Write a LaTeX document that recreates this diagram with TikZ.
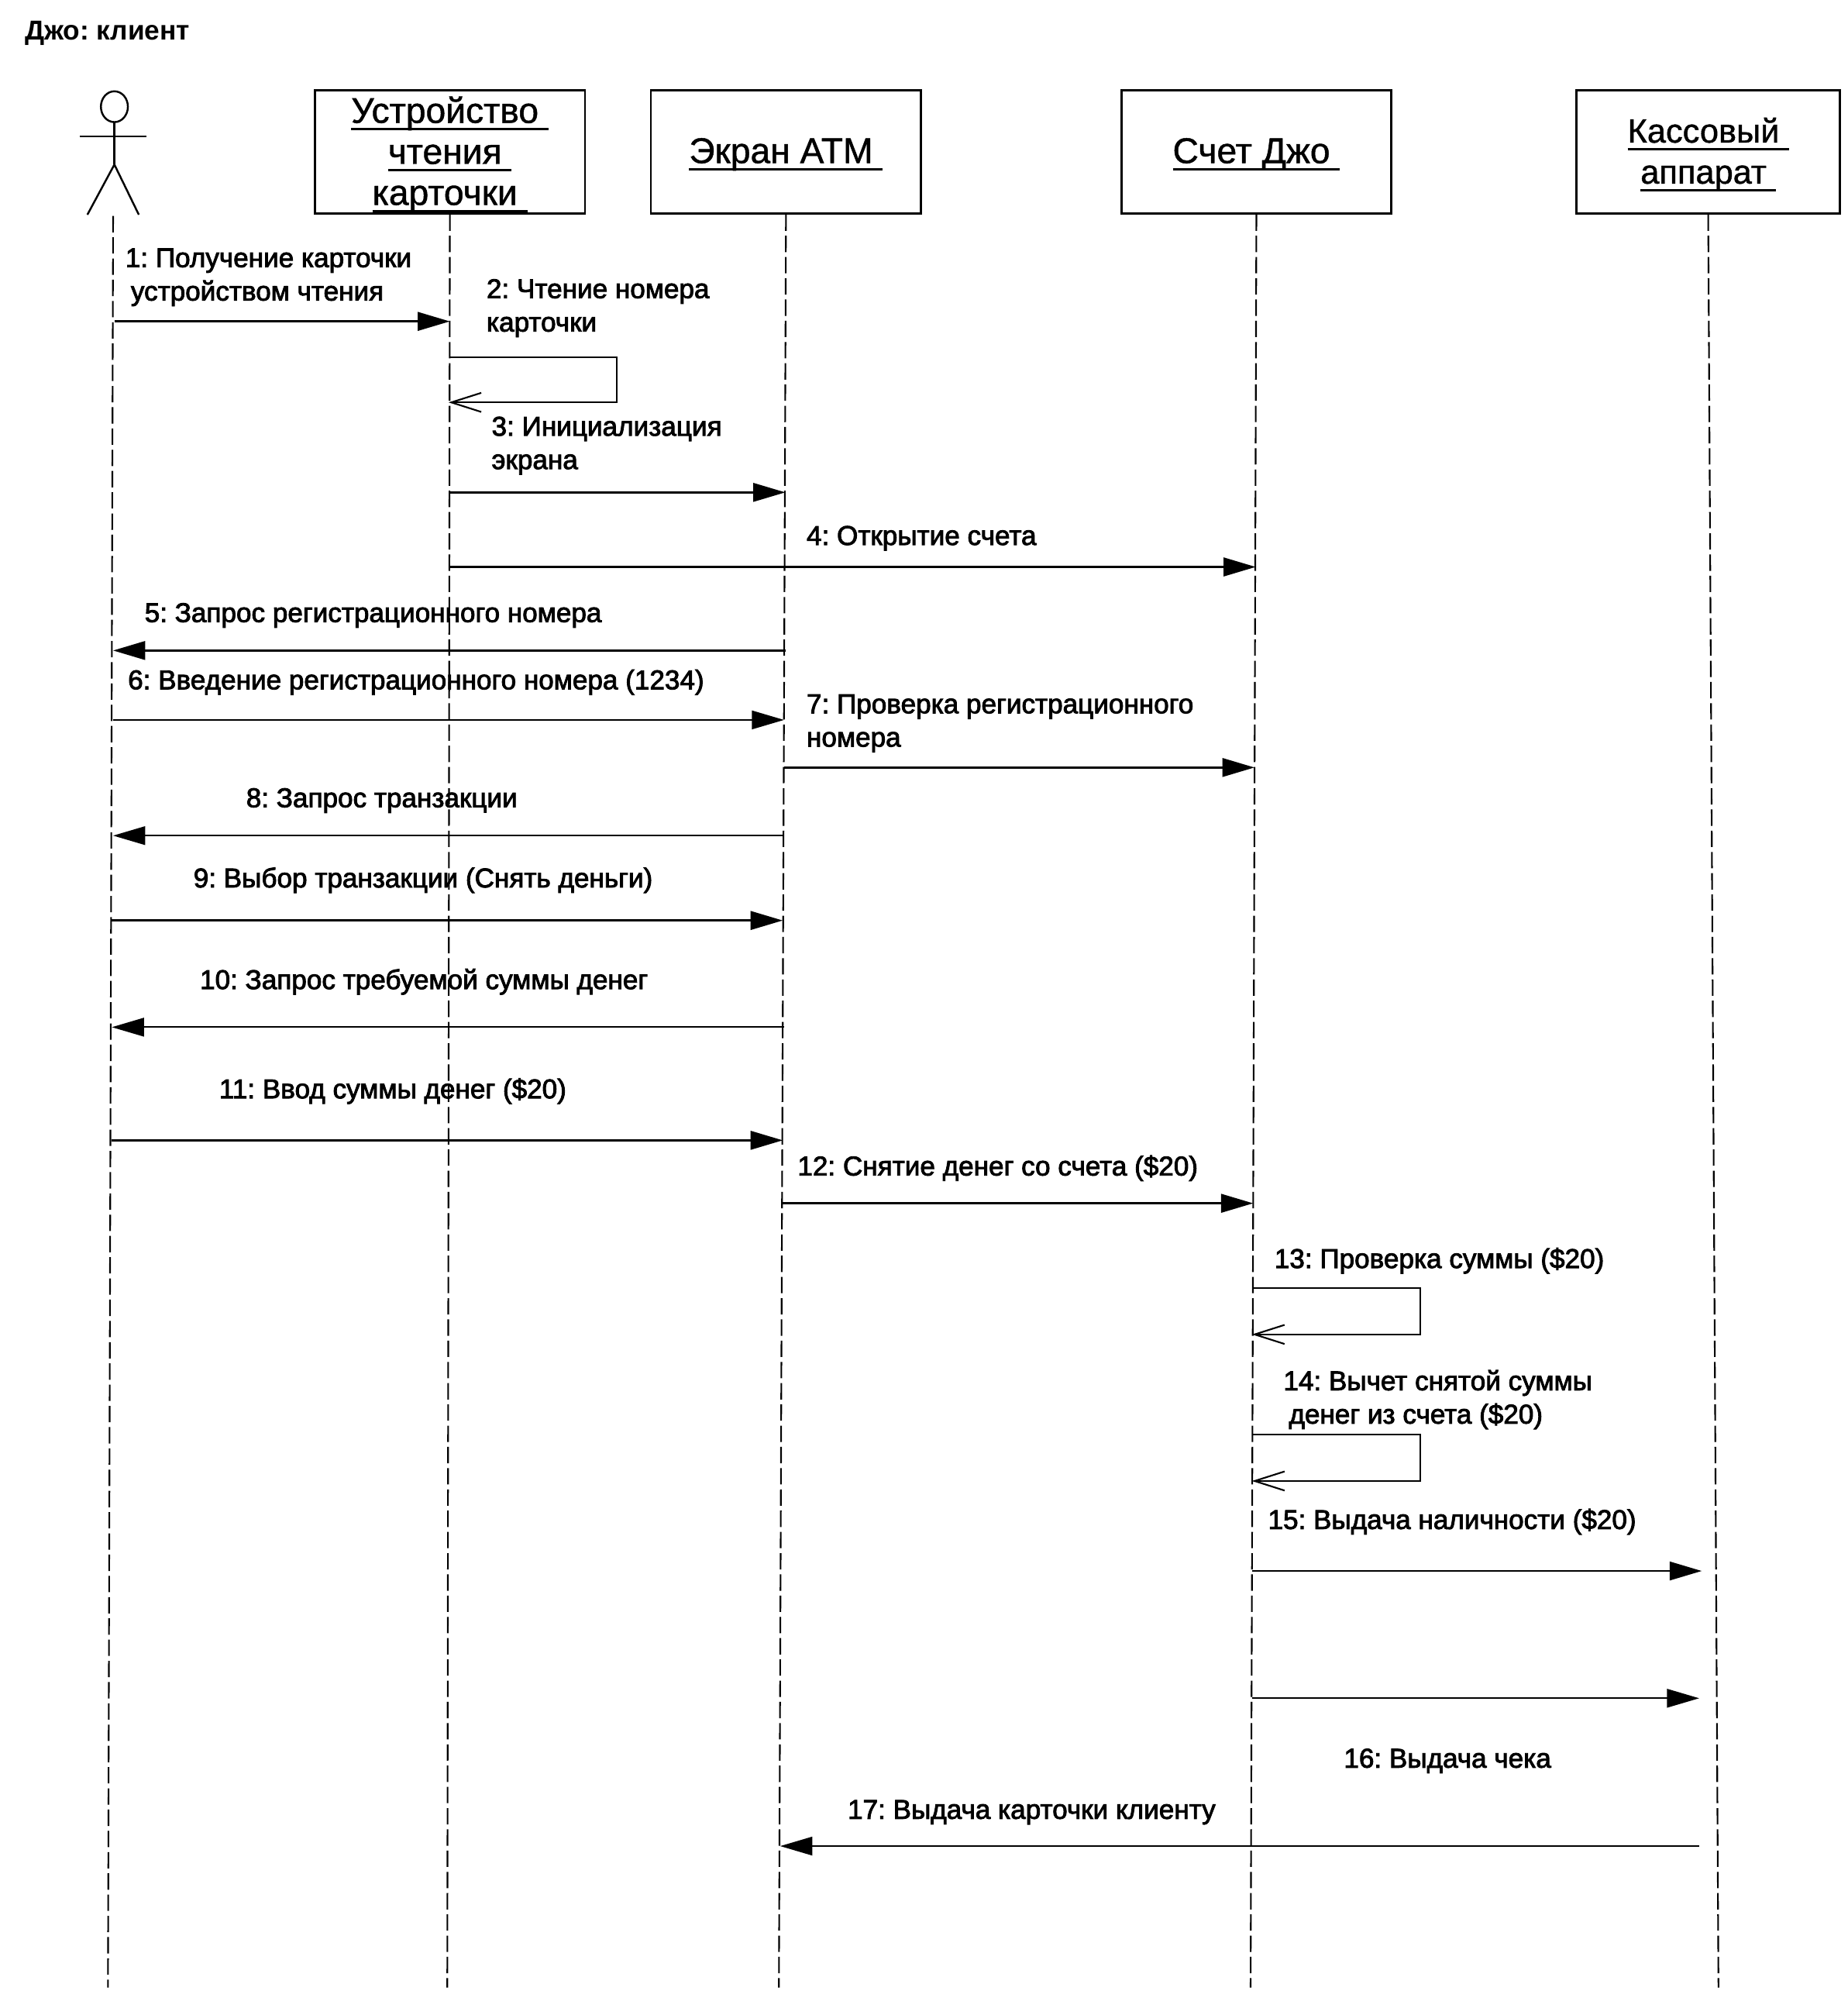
\documentclass[tikz,border=0pt]{standalone}
\usepackage{fontspec}
\setmainfont{Liberation Sans}
\newfontfamily\msgfont[FakeBold=2.5]{Liberation Sans}
\newfontfamily\namefont[FakeBold=1]{Liberation Sans}
\usetikzlibrary{arrows.meta}
\newcommand{\boxname}[1]{\raisebox{-1pt}[\height][\depth]{\setbox0=\hbox{#1\ }\rlap{\rule[-2.8pt]{\wd0}{0.9pt}}\box0}}
\tikzset{
    objbox/.style={draw,line width=0.8pt,minimum width=99.2pt,minimum height=45.3pt,inner sep=0pt,align=center,font=\namefont\fontsize{13.1bp}{15bp}\selectfont},
    lifeline/.style={line width=0.6pt,dash pattern=on 6pt off 1.8pt},
    msgline/.style={line width=0.8pt,-{Triangle[length=11.8pt,width=6.8pt]}},
    thinmsg/.style={msgline,line width=0.6pt},
    selfline/.style={line width=0.7pt,-{Straight Barb[length=11pt,width=7pt,line width=0.6pt]}},
    msglabel/.style={anchor=west,inner sep=0pt,xshift=-0.4pt,yshift=-0.8pt,align=left,font=\msgfont\fontsize{9.95bp}{12.2bp}\selectfont}
}
\frenchspacing
\begin{document}
\begin{tikzpicture}[x=0.016588cm,y=-0.016588cm]
    \useasboundingbox (1,0) rectangle (1438.2,1567.4);
    \node[anchor=west,inner sep=0pt,font=\fontsize{10bp}{12bp}\selectfont\bfseries] (title) at (20,26) {Джо: клиент};
    % actor
    \draw[line width=0.7pt] (90,83) ellipse [x radius=10.5,y radius=12];
    \draw[line width=0.7pt] (63,106) -- (115,106);
    \draw[line width=0.7pt] (90,95) -- (90,128);
    \draw[line width=0.7pt] (69,167) -- (90,128) -- (109,167);
    \coordinate (actortop) at (89,168);
    % objects
    \node[objbox] (reader) at (351,118) {\boxname{Устройство}\\\boxname{чтения}\\\boxname{карточки}};
    \node[objbox] (screen) at (612.5,118) {\boxname{Экран АТМ}};
    \node[objbox] (account) at (978.5,118) {\boxname{Счет Джо}};
    \node[objbox,minimum width=96.8pt,font=\namefont\fontsize{12.3bp}{15bp}\selectfont] (cash) at (1330,118) {\boxname{Кассовый}\\\boxname{аппарат}};
    % lifelines
    \coordinate (actorend) at (85,1546);
    \coordinate (readerend) at (349,1546);
    \coordinate (screenend) at (607,1546);
    \coordinate (accountend) at (974,1546);
    \coordinate (cashend) at (1338,1546);
    \draw[lifeline] (actortop) -- (actorend);
    \draw[lifeline] (reader.south) -- (readerend);
    \draw[lifeline] (screen.south) -- (screenend);
    \draw[lifeline] (account.south) -- (accountend);
    \draw[lifeline] (cash.south) -- (cashend);
    % messages
    \coordinate (a1) at (90,250);
    \coordinate (b1) at (351,250);
    \draw[msgline] (a1) -- (b1);
    \node[msglabel] (lab1) at (99,214) {1: Получение карточки\\\hspace*{2pt}устройством чтения};
    \coordinate (a2) at (351,278);
    \coordinate (c2) at (481,313);
    \coordinate (b2) at (350,313);
    \draw[selfline] (a2) -| (c2) -- (b2);
    \node[msglabel] (lab2) at (380,238) {2: Чтение номера\\карточки};
    \coordinate (a3) at (351,383);
    \coordinate (b3) at (612,383);
    \draw[msgline] (a3) -- (b3);
    \node[msglabel] (lab3) at (384,345) {3: Инициализация\\экрана};
    \coordinate (a4) at (351,441);
    \coordinate (b4) at (978,441);
    \draw[msgline] (a4) -- (b4);
    \node[msglabel] (lab4) at (629,417) {4: Открытие счета};
    \coordinate (a5) at (612,506);
    \coordinate (b5) at (89,506);
    \draw[msgline] (a5) -- (b5);
    \node[msglabel] (lab5) at (114,477) {5: Запрос регистрационного номера};
    \coordinate (a6) at (89,560);
    \coordinate (b6) at (611,560);
    \draw[thinmsg] (a6) -- (b6);
    \node[msglabel] (lab6) at (101,529) {6: Введение регистрационного номера (1234)};
    \coordinate (a7) at (611,597);
    \coordinate (b7) at (977,597);
    \draw[msgline] (a7) -- (b7);
    \node[msglabel] (lab7) at (629,561) {7: Проверка регистрационного\\номера};
    \coordinate (a8) at (611,650);
    \coordinate (b8) at (89,650);
    \draw[thinmsg] (a8) -- (b8);
    \node[msglabel] (lab8) at (193,621) {8: Запрос транзакции};
    \coordinate (a9) at (88,716);
    \coordinate (b9) at (610,716);
    \draw[msgline] (a9) -- (b9);
    \node[msglabel] (lab9) at (152,683) {9: Выбор транзакции (Снять деньги)};
    \coordinate (a10) at (611,799);
    \coordinate (b10) at (88,799);
    \draw[thinmsg] (a10) -- (b10);
    \node[msglabel] (lab10) at (157,762) {10: Запрос требуемой суммы денег};
    \coordinate (a11) at (88,887);
    \coordinate (b11) at (610,887);
    \draw[msgline] (a11) -- (b11);
    \node[msglabel] (lab11) at (172,847) {11: Ввод суммы денег (\$20)};
    \coordinate (a12) at (610,936);
    \coordinate (b12) at (976,936);
    \draw[msgline] (a12) -- (b12);
    \node[msglabel] (lab12) at (622,907) {12: Снятие денег со счета (\$20)};
    \coordinate (a13) at (976,1002);
    \coordinate (c13) at (1106,1038);
    \coordinate (b13) at (975,1038);
    \draw[selfline] (a13) -| (c13) -- (b13);
    \node[msglabel] (lab13) at (993,979) {13: Проверка суммы (\$20)};
    \coordinate (a14) at (975,1116);
    \coordinate (c14) at (1106,1152);
    \coordinate (b14) at (975,1152);
    \draw[selfline] (a14) -| (c14) -- (b14);
    \node[msglabel] (lab14) at (1000,1087) {14: Вычет снятой суммы\\\hspace*{2pt}денег из счета (\$20)};
    \coordinate (a15) at (975,1222);
    \coordinate (b15) at (1325,1222);
    \draw[msgline] (a15) -- (b15);
    \node[msglabel] (lab15) at (988,1182) {15: Выдача наличности (\$20)};
    \coordinate (a16) at (975,1321);
    \coordinate (b16) at (1323,1321);
    \draw[thinmsg] (a16) -- (b16);
    \node[msglabel] (lab16) at (1047,1368) {16: Выдача чека};
    \coordinate (a17) at (1323,1436);
    \coordinate (b17) at (608,1436);
    \draw[thinmsg] (a17) -- (b17);
    \node[msglabel] (lab17) at (661,1408) {17: Выдача карточки клиенту};
\end{tikzpicture}
\end{document}
